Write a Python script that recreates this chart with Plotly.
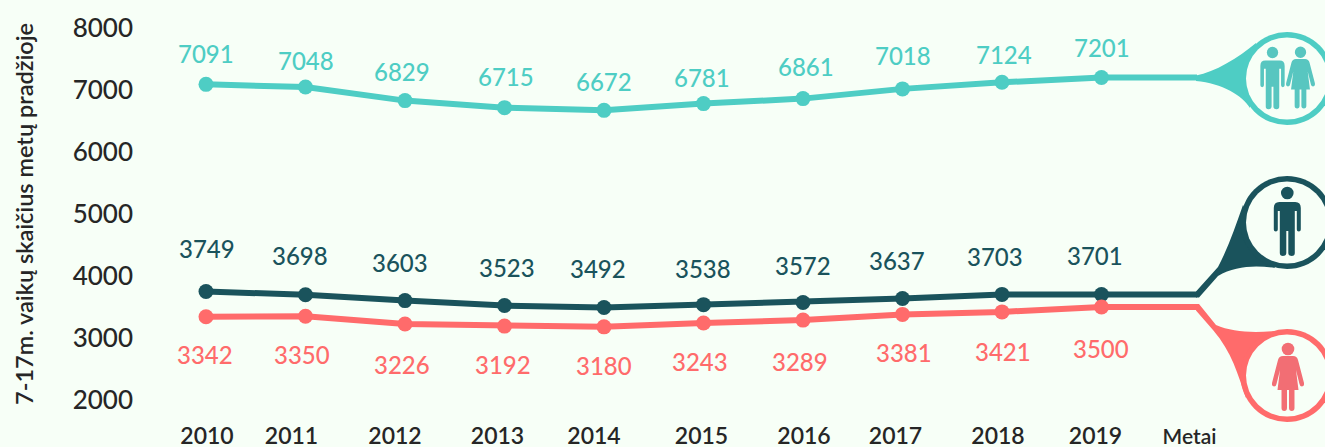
import plotly.graph_objects as go

years = [2010, 2011, 2012, 2013, 2014, 2015, 2016, 2017, 2018, 2019]
total = [7091, 7048, 6829, 6715, 6672, 6781, 6861, 7018, 7124, 7201]
boys = [3749, 3698, 3603, 3523, 3492, 3538, 3572, 3637, 3703, 3701]
girls = [3342, 3350, 3226, 3192, 3180, 3243, 3289, 3381, 3421, 3500]
y_ticks = [2000, 3000, 4000, 5000, 6000, 7000, 8000]
y_title = "7-17m. vaikų skaičius metų pradžioje"
x_extra_label = "Metai"

TEAL, NAVY, RED = "#4ECDC4", "#1A535C", "#FF6B6B"
BG = "#F7FFF7"
INK = "#262626"
FONT = "Lato"
W, H = 1325, 447
L, R, T, B = 134, 0, 28, 47
PX_PER_YEAR = 99.5
X0_PX = 206

# hand-placed label nudges of the original (pixels)
total_dx = [0, 0, -3, 1, 0, -2, 3, 0, 2, 0]
total_dy = [31, 27, 29, 31, 29, 26, 32, 33, 28, 30]
boys_dx = [1, -6, -5, 2, -6, -1, 0, -6, -7, -7]
boys_dy = [43, 39, 38, 38, 39, 36, 37, 38, 38, 39]
girls_dx = [-1, -4, -3, -2, 0, -4, -3, 1, 1, -1]
girls_dy = [-38, -38, -41, -38, -39, -39, -41, -38, -40, -41]
tick_dx = [1, -14, -10, -7, -10, -2, 1, -7, -4, -6]


def fx(px):
    return (px - L) / (W - L - R)


def fy(py):
    return (H - B - py) / (H - T - B)


def path(cmds):
    """cmds: list of (letter, [x, y, ...]) in page pixels -> paper path."""
    out = []
    for c, pts in cmds:
        vals = [
            f"{fx(v) if i % 2 == 0 else fy(v):.5f}" for i, v in enumerate(pts)
        ]
        pairs = [f"{vals[i]},{vals[i + 1]}" for i in range(0, len(vals), 2)]
        out.append(c + " " + " ".join(pairs))
    return " ".join(out) + " Z"


def blob(cmds, color):
    return dict(type="path", xref="paper", yref="paper", path=path(cmds),
                fillcolor=color, line=dict(width=0), layer="above")


def circle(cx, cy, r, color):
    return dict(type="circle", xref="paper", yref="paper",
                x0=fx(cx - r), x1=fx(cx + r), y0=fy(cy + r), y1=fy(cy - r),
                fillcolor=color, line=dict(width=0), layer="above")


def rel(ox, oy, s, cmds):
    return [(c, [(v * s + (ox if i % 2 == 0 else oy)) for i, v in enumerate(p)])
            for c, p in cmds]


MAN = [
    ("M", [-8, -21]), ("L", [8, -21]), ("Q", [13.5, -21, 13.5, -15]),
    ("L", [13.5, 6.5]), ("Q", [13.5, 8.5, 11.5, 8.5]), ("Q", [9.5, 8.5, 9.5, 6.5]),
    ("L", [9.5, -12]), ("L", [7.5, -12]), ("L", [7.5, 30]),
    ("Q", [7.5, 33, 4.5, 33]), ("Q", [1, 33, 1, 30]), ("L", [1, 8]), ("L", [-1, 8]),
    ("L", [-1, 30]), ("Q", [-1, 33, -4.5, 33]), ("Q", [-7.5, 33, -7.5, 30]),
    ("L", [-7.5, -12]), ("L", [-9.5, -12]), ("L", [-9.5, 6.5]),
    ("Q", [-9.5, 8.5, -11.5, 8.5]), ("Q", [-13.5, 8.5, -13.5, 6.5]),
    ("L", [-13.5, -15]), ("Q", [-13.5, -21, -8, -21]),
]
WOMAN = [
    ("M", [-5, -20]), ("L", [5, -20]), ("Q", [9, -20, 10, -16]), ("L", [16, 7]),
    ("Q", [16.5, 10, 14, 10.5]), ("Q", [12, 10.5, 11.5, 8]), ("L", [8, -6]),
    ("L", [10.5, 14]), ("L", [6.5, 14]), ("L", [6.5, 32]), ("Q", [6.5, 35, 3.8, 35]),
    ("Q", [1, 35, 1, 32]), ("L", [1, 14]), ("L", [-1, 14]), ("L", [-1, 32]),
    ("Q", [-1, 35, -3.8, 35]), ("Q", [-6.5, 35, -6.5, 32]), ("L", [-6.5, 14]),
    ("L", [-10.5, 14]), ("L", [-8, -6]), ("L", [-11.5, 8]), ("Q", [-12, 10.5, -14, 10.5]),
    ("Q", [-16.5, 10, -16, 7]), ("L", [-10, -16]), ("Q", [-9, -20, -5, -20]),
]


def person(shape, ox, oy, s, head_y, color):
    return [blob(rel(ox, oy, s, shape), color), circle(ox, oy + head_y * s, 6.3 * s, color)]


shapes = []
PIN_X, RO, RI = 1287, 46.5, 41

# teal pin
shapes.append(blob([
    ("M", [1196, 75.5]), ("C", [1215, 72, 1238, 58, 1256, 43]), ("L", [1250, 108]),
    ("C", [1243, 96, 1222, 83, 1196, 81]),
], TEAL))
shapes += [circle(PIN_X, 78.5, RO, TEAL), circle(PIN_X, 78.5, RI, BG)]
shapes += person(MAN, 1272.5, 79.5, 0.9, -30, "#58C6C0")
shapes += person(WOMAN, 1300.5, 77, 0.9, -27.5, "#58C6C0")

# navy pin
shapes.append(blob([
    ("M", [1196, 291.5]), ("L", [1218, 267]), ("C", [1228, 248, 1235, 228, 1243, 205]),
    ("L", [1275, 268]), ("C", [1255, 265, 1235, 266, 1218, 276]),
    ("L", [1199, 297.5]), ("L", [1196, 297.5]),
], NAVY))
shapes += [circle(PIN_X, 222.5, RO, NAVY), circle(PIN_X, 222.5, RI, BG)]
shapes += person(MAN, 1287.3, 223, 1, -30, NAVY)

# red pin
shapes.append(blob([
    ("M", [1196, 304]), ("L", [1199, 304]), ("L", [1216, 325]),
    ("C", [1232, 332, 1252, 333, 1275, 331]), ("L", [1246, 398]),
    ("C", [1238, 375, 1232, 352, 1213, 330]), ("L", [1196, 310.5]),
], RED))
shapes += [circle(PIN_X, 375.5, RO, RED), circle(PIN_X, 375.5, RI, BG)]
shapes += person(WOMAN, 1288, 376, 1, -27, "#F26E74")

fig = go.Figure()
end_x = years[-1] + (1197 - (X0_PX + PX_PER_YEAR * 9)) / PX_PER_YEAR
annotations = []
for vals, color, dxs, dys in [
    (total, TEAL, total_dx, total_dy),
    (boys, NAVY, boys_dx, boys_dy),
    (girls, RED, girls_dx, girls_dy),
]:
    fig.add_trace(go.Scatter(
        x=[years[-1], end_x], y=[vals[-1], vals[-1]], mode="lines",
        line=dict(color=color, width=6), hoverinfo="skip", showlegend=False,
    ))
    fig.add_trace(go.Scatter(
        x=years, y=vals, mode="lines+markers",
        line=dict(color=color, width=6), marker=dict(color=color, size=15),
        showlegend=False, cliponaxis=False,
    ))
    for yr, v, dx, dy in zip(years, vals, dxs, dys):
        annotations.append(dict(
            x=yr, y=v, xref="x", yref="y", text=str(v), showarrow=False,
            xshift=dx, yshift=dy, font=dict(family=FONT, size=24, color=color, weight=500),
        ))

annotations.append(dict(
    x=fx(24), y=fy(214), xref="paper", yref="paper", text=y_title, textangle=-90,
    xanchor="center", yanchor="middle",
    showarrow=False, font=dict(family=FONT, size=23.5, color=INK, weight=600),
))

tick_vals = [yr + d / PX_PER_YEAR for yr, d in zip(years, tick_dx)] + [years[-1] + 88 / PX_PER_YEAR]
tick_text = [str(y) for y in years] + [f'<span style="font-size:21px">{x_extra_label}</span>']

fig.update_layout(
    width=W, height=H, autosize=False,
    margin=dict(l=L, r=R, t=T, b=B, autoexpand=False),
    paper_bgcolor=BG, plot_bgcolor=BG,
    showlegend=False, shapes=shapes, annotations=annotations,
    xaxis=dict(
        range=[years[0] + (L - X0_PX) / PX_PER_YEAR, years[0] + (W - R - X0_PX) / PX_PER_YEAR],
        tickmode="array", tickvals=tick_vals, ticktext=tick_text,
        showgrid=False, zeroline=False, showline=False,
        ticks="outside", ticklen=15, tickcolor="rgba(0,0,0,0)",
        tickfont=dict(family=FONT, size=23, color=INK, weight=600), tickangle=0,
    ),
    yaxis=dict(
        range=[y_ticks[0], y_ticks[-1]], tickmode="array", tickvals=y_ticks,
        showgrid=False, zeroline=False, showline=False, ticks="",
        tickfont=dict(family=FONT, size=26, color=INK, weight=500),
    ),
)

fig.write_html(
    "out.html", config={"displayModeBar": False},
    post_script="document.documentElement.style.overflow='hidden';document.body.style.margin='0';document.body.style.background='#F7FFF7';",
)
